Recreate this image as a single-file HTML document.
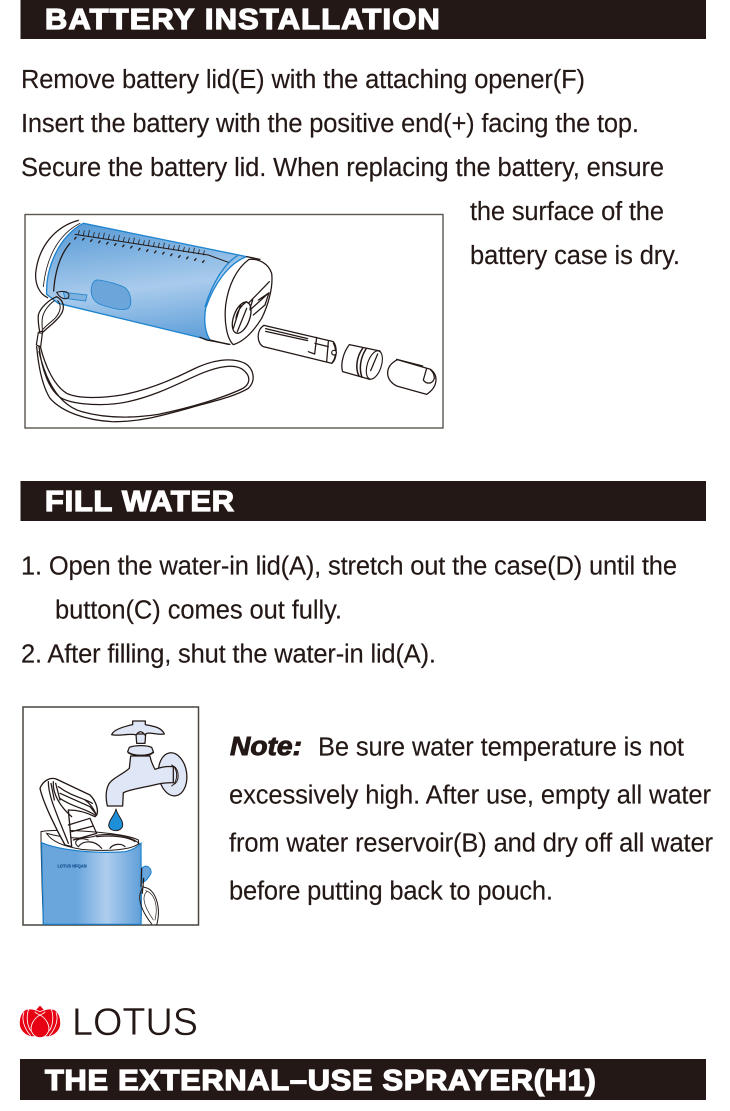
<!DOCTYPE html>
<html>
<head>
<meta charset="utf-8">
<style>
html,body{margin:0;padding:0;background:#fff}
svg{display:block}
text{font-family:"Liberation Sans",Arial,sans-serif}
.t{font-size:25.5px;fill:#231815;stroke:#231815;stroke-width:.15px}
.h{font-size:28.5px;font-weight:bold;fill:#fff;stroke:#fff;stroke-width:1.3px}
.l{fill:none;stroke:#231815;stroke-width:3.8;stroke-linecap:round;stroke-linejoin:round}
.w{fill:#fff;stroke:#231815;stroke-width:3.8;stroke-linejoin:round}
.f{fill:#dfe6f5;stroke:#231815;stroke-width:3.8;stroke-linejoin:round}
</style>
</head>
<body>
<svg width="730" height="1111" viewBox="0 0 730 1111" xmlns="http://www.w3.org/2000/svg">
<defs>
<linearGradient id="b1" x1="0.38" y1="0" x2="0.6" y2="1">
<stop offset="0" stop-color="#5f9fd8"/><stop offset=".55" stop-color="#a9cbec"/><stop offset="1" stop-color="#62a1da"/>
</linearGradient>
<linearGradient id="b2" x1="0" y1="0" x2="1" y2="0">
<stop offset="0" stop-color="#6aa6dc"/><stop offset=".35" stop-color="#6aa6dc"/><stop offset=".65" stop-color="#aecdee"/><stop offset="1" stop-color="#5f9fd8"/>
</linearGradient>
</defs>

<rect width="730" height="1111" fill="#fff"/>

<rect x="20.500" y="0" width="685.500" height="39" fill="#231815"/>
<g transform="translate(45 29) scale(1.08 1)"><text class="h" x="0" y="0" textLength="365.500">BATTERY INSTALLATION</text></g>

<text class="t" x="21" y="88" textLength="564">Remove battery lid(E) with the attaching opener(F)</text>
<text class="t" x="21" y="132" textLength="618">Insert the battery with the positive end(+) facing the top.</text>
<text class="t" x="21" y="176" textLength="643">Secure the battery lid. When replacing the battery, ensure</text>
<text class="t" x="470" y="220" textLength="194">the surface of the</text>
<text class="t" x="470" y="264" textLength="210">battery case is dry.</text>

<rect x="25" y="214.500" width="418" height="213.500" fill="#fff" stroke="#5a5650" stroke-width="1.4"/>
<g transform="translate(15 205) scale(.33333)">
  <path d="M205 55L695 155C640 175 595 240 572 310C565 350 572 385 585 405L130 295L95 268C92 190 130 95 205 55Z" fill="url(#b1)" stroke="#1e84cf" stroke-width="4"/>
  <path d="M668 152C628 175 592 235 570 305" fill="none" stroke="#1e84cf" stroke-width="4"/>
  <path class="l" d="M190 46C120 65 70 125 62 205C60 240 75 268 98 278"/>
  <path class="l" style="stroke-width:2.500" d="M195 55C135 85 95 150 85 245"/>
  <path class="l" d="M165 115C135 150 120 200 116 258"/>
  <path class="l" d="M180 88L580 150L640 172" style="stroke-width:3"/>
  <path class="l" d="M190 88l3-12M205 90l3-13M220 92l3-16M235 95l3-13M250 97l3-13M265 100l3-16M280 102l3-13M295 105l3-13M310 107l3-16M325 110l3-13M340 112l3-13M355 115l3-16M370 117l3-13M385 120l3-13M400 122l3-16M415 125l3-13M430 127l3-13M445 130l3-16M460 132l3-13M475 135l3-13M490 137l3-16M505 140l3-13M520 142l3-13M535 145l3-16M550 147l3-13M565 150l3-13" style="stroke-width:2.400"/>
  <path class="l" d="M183 97l-4 5M207 100l-4 5M231 104l-4 5M255 108l-4 5M279 112l-4 5M303 116l-4 5M327 120l-4 5M351 124l-4 5M375 130l-4 5M399 134l-4 5M423 138l-4 5M447 142l-4 5M471 147l-4 5M495 152l-4 5M519 156l-4 5M543 161l-4 5M567 167l-4 5" style="stroke-width:4"/>
  <path d="M250 225C275 228 310 238 330 248C348 262 352 295 342 308C330 320 290 310 255 298C232 288 225 265 230 245C233 232 240 224 250 225Z" fill="#6ca5da" stroke="#1e84cf" stroke-width="2.500"/>
  <path d="M145 262L216 270L212 288L150 280Z" fill="#80b2e0" stroke="#1e84cf" stroke-width="2.500"/>
  <path class="l" d="M585 405L640 418"/>
  <path class="l" d="M695 155L735 163"/>

  <path class="l" d="M125 262C150 255 168 262 160 278C150 285 135 280 125 262Z" style="stroke-width:3"/>
  <path class="l" d="M125 275C100 285 75 310 70 330C68 350 72 370 75 385M125 275C145 285 150 305 140 325C125 350 100 365 80 385"/>
  <path class="l" d="M118 287C100 300 85 320 82 340C80 355 82 365 82 375M128 287C140 300 138 320 120 340C110 350 95 360 85 372" style="stroke-width:3"/>
  <path class="l" d="M70 382L83 378L77 425L64 420Z" style="stroke-width:3.600"/>
  <path class="l" d="M65 425C70 480 80 540 105 580C140 620 210 645 290 650C370 652 440 632 520 610C590 590 660 575 700 550C725 525 715 490 690 475C650 455 590 465 530 495C470 525 400 555 320 570C260 580 190 582 155 565C115 540 90 480 76 425"/>
  <path class="l" d="M72 425C80 490 100 555 140 580C180 600 270 605 340 590C430 570 500 530 560 505C610 485 660 475 685 495C710 515 705 540 680 552C620 580 520 610 430 628C350 640 270 640 200 620C150 605 100 560 72 440"/>
</g>
<g transform="translate(200 250) scale(.33333)">
  <path class="w" d="M147 28C110 55 85 105 77 165C72 215 80 265 100 284C130 275 160 245 185 205C205 165 220 110 215 70C205 40 175 25 147 28Z"/>
  <path class="l" d="M0 262L20 270L90 283"/>
  <ellipse cx="125" cy="203" rx="24" ry="49" transform="rotate(20 125 203)" fill="#fff" stroke="#231815" stroke-width="4"/>
  <path class="l" d="M108 205C110 185 125 165 140 155M100 235L122 165M112 245L140 175"/>
  <path class="l" d="M145 160L208 95M150 175L158 150M150 180L207 128L195 165L160 195M175 150L205 130"/>
  <path class="w" d="M192 226L400 275C412 290 412 325 396 340L190 290C170 280 168 240 192 226Z"/>
  <path class="l" d="M197 236L323 266M197 244L323 272M350 262L344 312L325 305M345 280L385 290M385 275L380 335M400 280C410 295 408 325 397 337"/>
  <circle cx="402" cy="308" r="7" fill="#fff" stroke="#231815" stroke-width="3.600"/>
  <path class="w" d="M448 284L540 303C548 330 535 375 510 388L428 365C420 340 432 305 448 284Z"/>
  <path class="l" d="M488 295C470 320 465 355 477 378M498 297C480 325 477 358 486 382" style="stroke-width:4.500"/>
  <ellipse cx="523" cy="345" rx="21" ry="44" transform="rotate(18 523 345)" fill="#fff" stroke="#231815" stroke-width="3.400"/>
  <path class="l" d="M512 362L533 312"/>
  <path class="w" d="M592 329L692 358C715 375 715 410 680 433L590 408C555 390 552 350 592 329Z"/>
  <path class="l" d="M590 328L668 348M680 355L670 390C678 402 696 405 703 385C703 372 698 365 692 360"/>
</g>

<rect x="20.500" y="481" width="685.500" height="40" fill="#231815"/>
<g transform="translate(45 511) scale(1.08 1)"><text class="h" x="0" y="0" textLength="175">FILL WATER</text></g>

<text class="t" x="21" y="574.500" textLength="656">1. Open the water-in lid(A), stretch out the case(D) until the</text>
<text class="t" x="55" y="618.500" textLength="287">button(C) comes out fully.</text>
<text class="t" x="21" y="662.500" textLength="415">2. After filling, shut the water-in lid(A).</text>

<rect x="23" y="707" width="175.500" height="218" fill="#fff" stroke="#4a4640" stroke-width="1.500"/>
<g transform="translate(15 700) scale(.33333)">
  <path d="M78 395C120 385 320 395 370 420C378 470 380 600 378 673H85C82 580 78 470 78 395Z" fill="#fff" stroke="#231815" stroke-width="3"/>
  <path d="M80 428C130 450 240 462 330 455C350 452 368 440 378 430C378 500 380 600 378 673H85C84 580 80 490 80 428Z" fill="url(#b2)" stroke="#1a80cc" stroke-width="3.500"/>
  <path d="M380 505C395 490 410 505 408 520C400 535 390 545 382 548Z" fill="#6aa6dc" stroke="#1a80cc" stroke-width="3"/>
  <path d="M95 400C150 415 210 420 250 405C300 400 350 410 372 430C350 450 280 455 200 448C150 440 110 425 95 400Z" fill="#fff" stroke="#231815" stroke-width="3"/>
  <path class="l" d="M190 440C205 420 240 420 260 445M285 445C295 430 320 430 330 440M245 410C290 405 340 410 360 425" style="stroke-width:3.500"/>
  <path class="l" d="M75 265C85 240 110 228 130 240L225 285C245 305 255 340 240 350C220 340 190 330 160 330L170 440L150 435C125 390 85 310 75 265Z" style="fill:#fff;stroke-width:4"/>
  <path class="l" d="M100 245C100 290 125 340 160 430M115 245C112 280 135 320 170 350M135 280L225 320L245 345M130 260C170 290 210 295 232 310M135 295C170 320 210 325 240 345M160 375L225 355L245 400L175 420M170 395L235 378M108 250L118 300M122 250L135 300M210 300C225 310 235 325 242 340" style="stroke-width:3.800"/>
  <path class="l" d="M190 440C170 425 190 410 220 420" style="stroke-width:3"/>

  <path class="l" d="M380 505L378 560M386 535L382 580" style="stroke-width:3.500"/>
  <path class="l" d="M386 560C365 585 370 620 410 672M388 562C420 565 440 620 425 675" style="stroke-width:3"/>
  <path class="l" d="M395 575C380 590 385 615 415 660M392 572C420 580 430 620 420 660" style="stroke-width:2"/>
  <text x="127" y="503" font-size="15" font-weight="bold" fill="#1f5a96" stroke="#1f5a96" stroke-width=".8" textLength="88" lengthAdjust="spacingAndGlyphs">LOTUS HFQAN</text>
</g>
<g transform="translate(30 710) scale(.33333)">
  <ellipse cx="428" cy="193" rx="42" ry="65" transform="rotate(-8 428 193)" class="f"/>
  <path class="f" d="M302 138L298 175C275 195 245 205 235 225C226 245 228 270 232 288H278L280 248C300 238 345 232 385 222C405 218 420 218 430 218V170C410 168 390 172 375 178C368 165 362 150 360 138Z"/>
  <path class="l" d="M425 165C445 175 445 215 425 228M434 170C448 185 448 210 434 222" style="stroke-width:3"/>
  <path class="f" d="M318 72H347L345 100L320 100Z"/>
  <path class="f" d="M298 112C315 105 350 105 365 112L370 125C360 140 305 140 293 125Z"/>
  <path class="l" d="M295 128C315 140 355 140 370 127" style="stroke-width:5"/>
  <path class="f" d="M245 74C250 60 280 50 308 44L308 33H346V44C370 48 395 52 403 72C380 76 350 62 345 75C335 62 328 62 318 75C305 68 265 80 245 74Z"/>
  <path d="M258 296C262 318 280 328 278 347C275 366 240 368 236 347C236 328 254 318 258 296Z" fill="#1d8fd8" stroke="#231815" stroke-width="2.800"/>
</g>

<text x="230" y="755" font-size="25.500" font-weight="bold" font-style="italic" fill="#231815" stroke="#231815" stroke-width=".9" textLength="72" lengthAdjust="spacingAndGlyphs">Note:</text>
<text class="t" x="318" y="755.500" textLength="366">Be sure water temperature is not</text>
<text class="t" x="229" y="803.500" textLength="482">excessively high. After use, empty all water</text>
<text class="t" x="229" y="851.500" textLength="484">from water reservoir(B) and dry off all water</text>
<text class="t" x="229" y="899.500" textLength="324">before putting back to pouch.</text>

<g transform="translate(10 995) scale(.33333)" fill="#e60012" stroke="#fff" stroke-width="2.500">
  <path d="M90 30L103 44L90 58L77 44Z"/>
  <path d="M28 85C28 65 35 52 45 45C55 40 72 42 90 50C108 42 125 40 135 45C145 52 152 65 152 85C152 105 135 122 115 125H65C45 122 28 105 28 85Z"/>
  <path fill="none" d="M58 38C48 60 50 88 62 108M122 38C132 60 130 88 118 108M42 52C34 72 42 100 62 122M138 52C146 72 138 100 118 122M74 50C78 54 84 58 90 60C96 58 102 54 106 50"/>
  <path d="M90 60C72 70 60 90 64 108C68 120 78 128 90 128C102 128 112 120 116 108C120 90 108 70 90 60Z"/>
</g>
<text x="72" y="1035" font-size="39" fill="#231815" stroke="#fff" stroke-width=".5" textLength="126" lengthAdjust="spacingAndGlyphs">LOTUS</text>

<rect x="20" y="1059" width="686" height="41" fill="#231815"/>
<g transform="translate(45 1090) scale(1.08 1)"><text class="h" x="0" y="0" textLength="510">THE EXTERNAL–USE SPRAYER(H1)</text></g>
</svg>
</body>
</html>
